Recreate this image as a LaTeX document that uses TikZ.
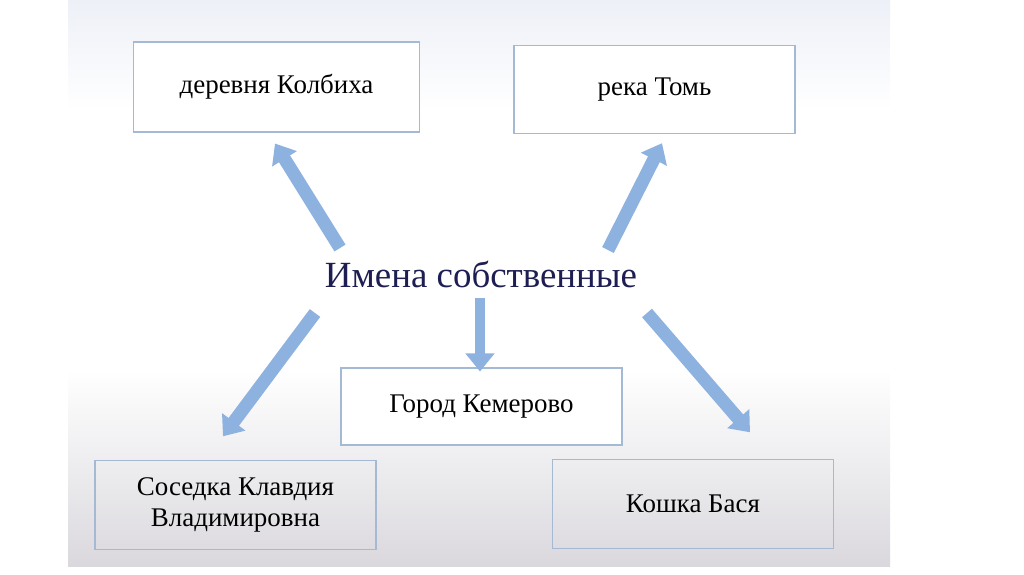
\documentclass[tikz,border=0pt]{standalone}
\usepackage{fontspec}
\setmainfont{Liberation Serif}
\usetikzlibrary{calc,arrows.meta,positioning}
\definecolor{cframe}{HTML}{A3B9D4}
\definecolor{carrow}{HTML}{8DB2E0}
\definecolor{cnavy}{HTML}{1E1E52}
\definecolor{ctop}{HTML}{EDF0F7}
\definecolor{cbot}{HTML}{DAD8DD}

\begin{document}
\begin{tikzpicture}[x=0.03cm, y=-0.03cm,
  box/.style={draw=cframe, line width=0.9pt, fill=#1, minimum width=8.43cm, minimum height=2.65cm,
              align=center, text=black, font=\fontsize{23}{26.5}\selectfont},
  box/.default=white,
  arr/.style={carrow, line width=0.39cm, -{Triangle[width=0.84cm, length=0.54cm]}},
  arrthin/.style={arr, line width=0.3cm}]
\useasboundingbox (0,0) rectangle (1024,574);
%% slide panel
\shade[top color=ctop, bottom color=white] (68,0) rectangle (890,110);
\fill[white] (68,110) rectangle (890,370);
\shade[top color=white, bottom color=cbot] (68,370) rectangle (890,566);
%% centre
\node[text=cnavy, font=\fontsize{31.5}{36}\selectfont] (name) at (481,274) {Имена собственные};
%% top row
\node[box, minimum width=8.6cm, minimum height=2.7cm] (kolb) at (276.5,87) {деревня Колбиха};
\node[box] (tom) at (654.5,89.5) {река Томь};
%% bottom row
\node[box, minimum height=2.31cm] (kem) at (481.5,406.5) {Город Кемерово};
\node[box=none] (sos) at (235.5,505) {Соседка Клавдия\\Владимировна};
\node[box=none] (kosh) at (693,504) {Кошка Бася};
%% arrows
\coordinate (t1) at ($(name)+(-141,-26)$);
\coordinate (t2) at ($(name)+(127,-24)$);
\coordinate (t3) at ($(name)+(-1,24)$);
\coordinate (t4) at ($(name)+(-166,39)$);
\coordinate (t5) at ($(name)+(166,39)$);
\draw[arr] (t1) -- ($(kolb.south)+(-1.5,11)$);
\draw[arr] (t2) -- ($(tom.south)+(7.5,9)$);
\draw[arrthin] (t3) -- ($(kem.north)+(-1.5,4)$);
\draw[arr] (t4) -- ($(sos.north)+(-12.5,-24)$);
\draw[arr] (t5) -- ($(kosh.north)+(57,-27)$);
\end{tikzpicture}
\end{document}
